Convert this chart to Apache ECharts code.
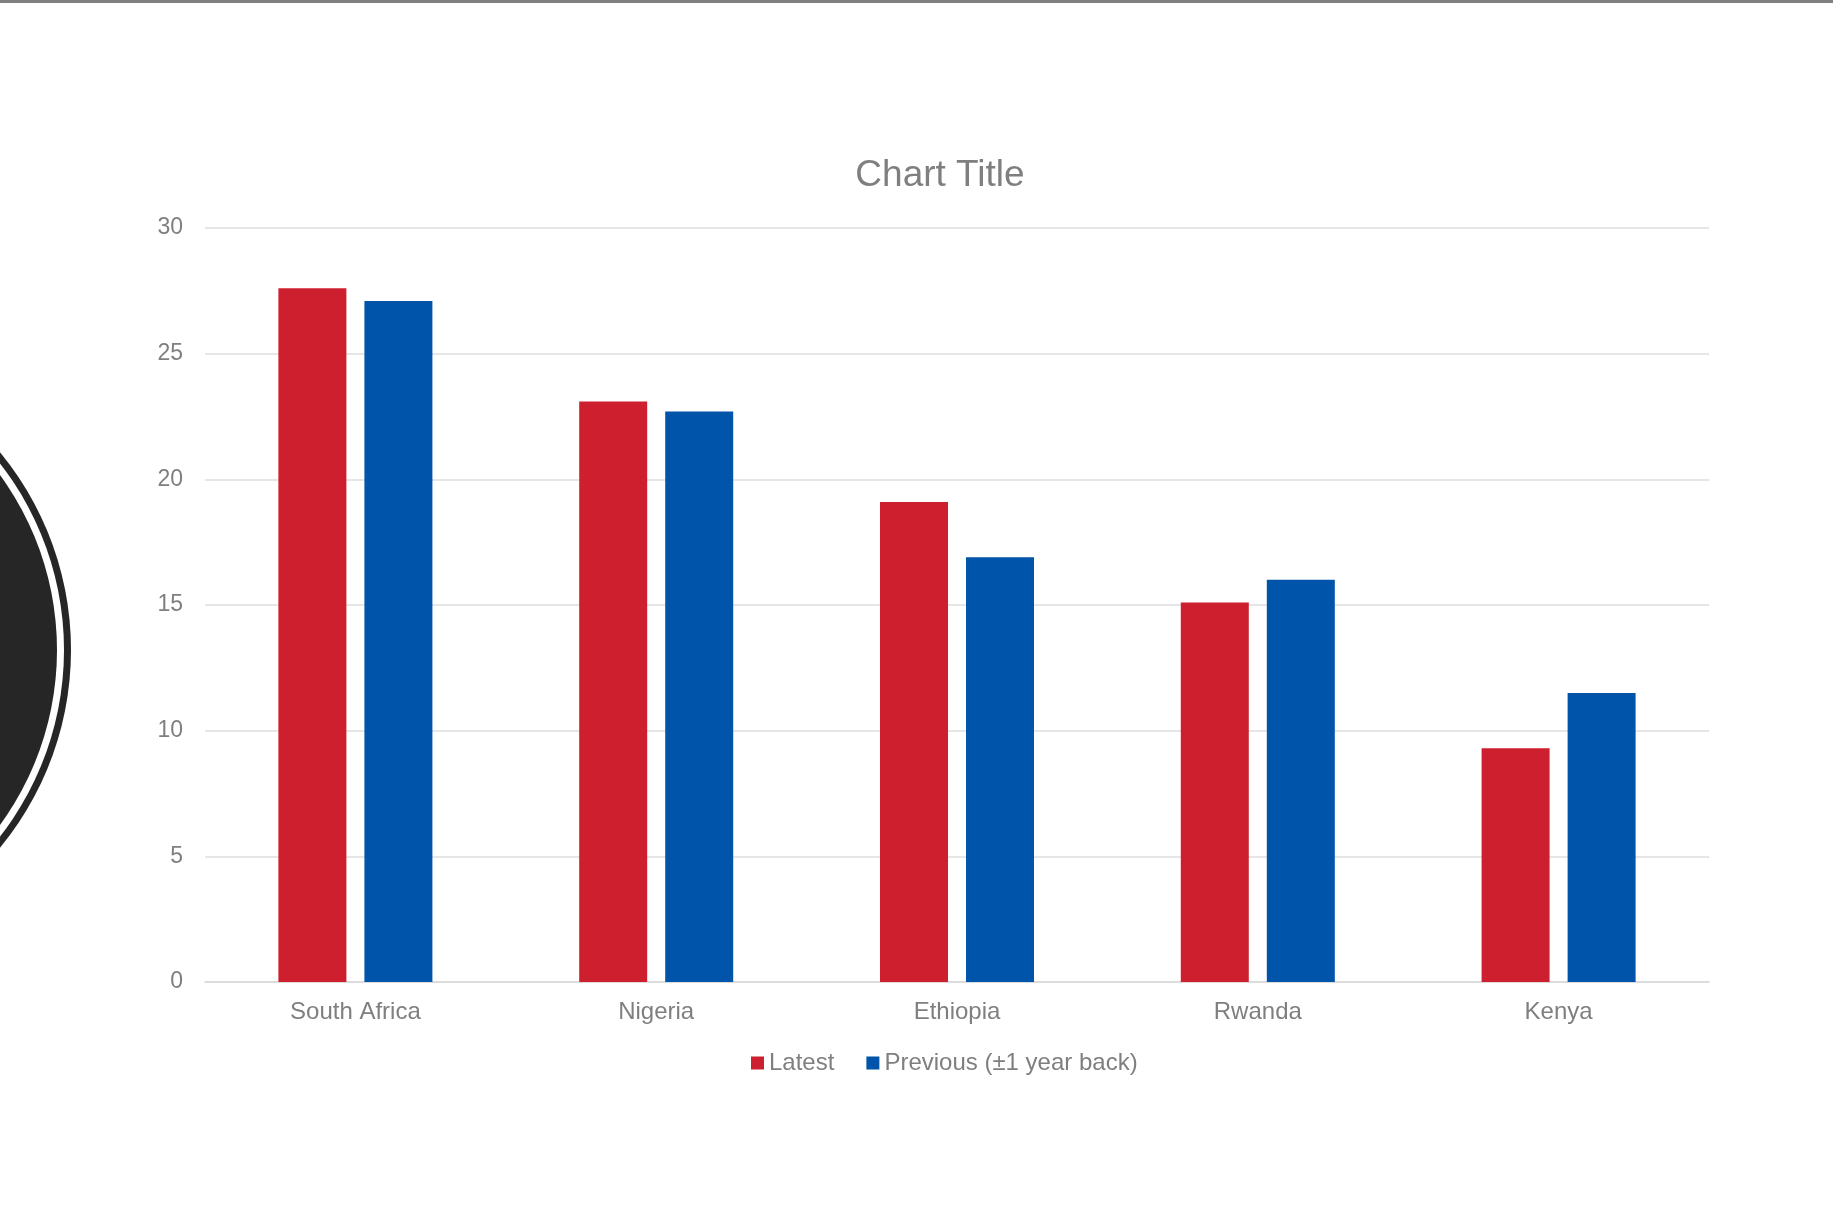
<!DOCTYPE html>
<html>
<head>
<meta charset="utf-8">
<title>Chart Title</title>
<script src="https://cdn.jsdelivr.net/npm/echarts@6/dist/echarts.min.js"></script>
<style>
  html, body { margin: 0; padding: 0; background: #fff; }
  #chart { width: 1833px; height: 1211px; }
</style>
</head>
<body>
<div id="chart"></div>
<script>
// data
const countries = ['South Africa', 'Nigeria', 'Ethiopia', 'Rwanda', 'Kenya'];
const latest = [27.6, 23.1, 19.1, 15.1, 9.3];
const previous = [27.1, 22.7, 16.9, 16.0, 11.5];
const yTicks = [0, 5, 10, 15, 20, 25, 30];

const grey = '#7f7f7f';
const font = 'Liberation Sans';

const chart = echarts.init(document.getElementById('chart'));

chart.setOption({
  backgroundColor: '#fff',
  animation: false,
  textStyle: { fontFamily: font },
  title: {
    text: 'Chart Title',
    left: 935,
    textAlign: 'center',
    top: 152,
    textStyle: { color: grey, fontSize: 37, fontWeight: 'normal', fontFamily: font }
  },
  legend: {
    left: 751,
    top: 1051,
    padding: 0,
    itemWidth: 13,
    itemHeight: 13,
    itemGap: 32,
    icon: 'rect',
    textStyle: { color: grey, fontSize: 24, fontFamily: font },
    data: ['Latest', 'Previous (±1 year back)']
  },
  grid: { left: 205, right: 124, top: 228, bottom: 229 },
  xAxis: {
    type: 'category',
    data: countries,
    axisTick: { show: false },
    axisLine: { lineStyle: { color: '#d9d9d9', width: 1.5 } },
    axisLabel: { color: grey, fontSize: 24, margin: 18, fontFamily: font }
  },
  yAxis: {
    type: 'value',
    min: yTicks[0],
    max: yTicks[yTicks.length - 1],
    interval: 5,
    axisLine: { show: false },
    axisTick: { show: false },
    axisLabel: { color: grey, fontSize: 23, margin: 22, fontFamily: font },
    splitLine: { lineStyle: { color: '#dedede', width: 1.5 } }
  },
  graphic: [
    // grey strip along the top edge
    { type: 'rect', left: 0, top: 0, shape: { width: 1833, height: 3 }, style: { fill: '#808080' } },
    // dark disc cut off at the left edge
    { type: 'circle', shape: { cx: -240, cy: 650, r: 311 }, style: { fill: '#262626' }, z: -1 },
    { type: 'circle', shape: { cx: -240, cy: 650, r: 304 }, style: { fill: '#ffffff' }, z: -1 },
    { type: 'circle', shape: { cx: -240, cy: 650, r: 297 }, style: { fill: '#262626' }, z: -1 }
  ],
  series: [
    {
      name: 'Latest',
      type: 'bar',
      data: latest,
      barWidth: 68,
      barGap: '26.5%',
      itemStyle: { color: '#ce1f2e' }
    },
    {
      name: 'Previous (±1 year back)',
      type: 'bar',
      data: previous,
      barWidth: 68,
      itemStyle: { color: '#0054a9' }
    }
  ]
});
</script>
</body>
</html>
